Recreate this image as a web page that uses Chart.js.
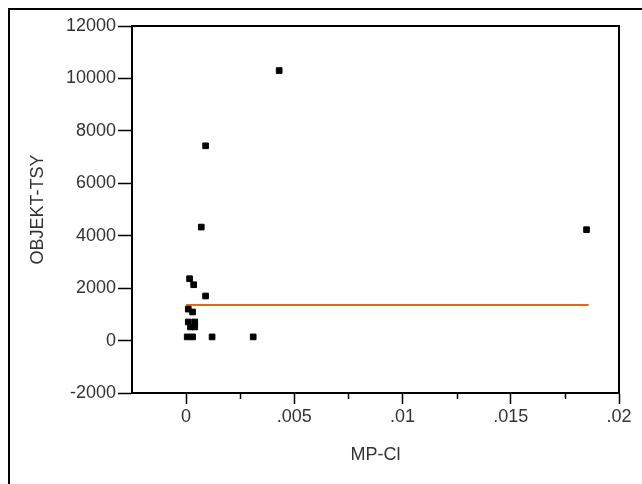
<!DOCTYPE html>
<html>
<head>
<meta charset="utf-8">
<script src="https://cdn.jsdelivr.net/npm/chart.js@4/dist/chart.umd.min.js"></script>
<style>
    html, body { margin: 0; padding: 0; background: #fff; }
    #wrap { position: relative; width: 642px; height: 484px; }
</style>
</head>
<body>
<div id="wrap"><canvas id="chart" width="642" height="484"></canvas></div>
<script>
// Data
const mpX = [0.0043, 0.0009, 0.0007, 0.0185, 0.00016, 0.00035, 0.0009, 0.0001, 0.0003, 0.0001, 0.0004, 0.0002, 0.0004, 0.00005, 0.0003, 0.0012, 0.0031];
const objY = [10300, 7430, 4330, 4230, 2360, 2130, 1700, 1200, 1090, 710, 710, 520, 520, 140, 140, 140, 140];
const meanX = [0, 0.0186];
const meanY = [1360, 1360];

const xTickValues = [0, 0.005, 0.01, 0.015, 0.02];
const xTickLabels = ['0', '.005', '.01', '.015', '.02'];
const xMinorTicks = [0.0025, 0.0075, 0.0125, 0.0175];
const yTickValues = [-2000, 0, 2000, 4000, 6000, 8000, 10000, 12000];

const tickFont = { family: 'Liberation Sans, Arial, sans-serif', size: 18 };

// Outer frame, plot box and minor x ticks
const framePlugin = {
    id: 'frame',
    afterDraw(chart) {
        const { ctx, chartArea } = chart;
        const xs = chart.scales.x;
        ctx.save();
        ctx.strokeStyle = '#000';
        ctx.lineWidth = 2;
        ctx.beginPath();
        ctx.moveTo(9, 484);
        ctx.lineTo(9, 9);
        ctx.lineTo(642, 9);
        ctx.moveTo(chartArea.left, chartArea.top);
        ctx.lineTo(chartArea.right, chartArea.top);
        ctx.lineTo(chartArea.right, chartArea.bottom);
        ctx.stroke();
        ctx.lineWidth = 1.5;
        ctx.beginPath();
        xMinorTicks.forEach((v) => {
            const px = Math.round(xs.getPixelForValue(v)) + 0.5;
            ctx.moveTo(px, chartArea.bottom);
            ctx.lineTo(px, chartArea.bottom + 6);
        });
        ctx.stroke();
        ctx.restore();
    }
};

new Chart(document.getElementById('chart'), {
    type: 'scatter',
    data: {
        datasets: [
            {
                label: 'OBJEKT-TSY',
                data: mpX.map((x, i) => ({ x, y: objY[i] })),
                backgroundColor: '#000',
                borderColor: '#000',
                pointStyle: 'rect',
                pointRadius: 4,
                order: 1
            },
            {
                label: 'mean',
                type: 'line',
                data: meanX.map((x, i) => ({ x, y: meanY[i] })),
                borderColor: '#e8690c',
                borderWidth: 2,
                pointRadius: 0,
                order: 2
            }
        ]
    },
    options: {
        responsive: false,
        animation: false,
        layout: { padding: { left: 0, top: 26, right: 23, bottom: 0 } },
        plugins: {
            legend: { display: false },
            tooltip: { enabled: false }
        },
        scales: {
            x: {
                type: 'linear',
                min: -0.0025,
                max: 0.02,
                afterBuildTicks: (scale) => {
                    scale.ticks = xTickValues.map((value) => ({ value }));
                },
                afterFit: (scale) => { scale.height = 91; },
                ticks: {
                    color: '#333',
                    font: tickFont,
                    padding: 2,
                    maxRotation: 0,
                    callback: (value) => xTickLabels[xTickValues.indexOf(value)] ?? ''
                },
                grid: { drawOnChartArea: false, tickLength: 11, tickColor: '#000', tickWidth: 1.5 },
                border: { color: '#000', width: 2 },
                title: {
                    display: true,
                    text: 'MP-Cl',
                    color: '#333',
                    font: tickFont,
                    padding: { top: 18, bottom: 18 }
                }
            },
            y: {
                min: -2000,
                max: 12000,
                afterBuildTicks: (scale) => {
                    scale.ticks = yTickValues.map((value) => ({ value }));
                },
                afterFit: (scale) => { scale.width = 132; },
                ticks: {
                    color: '#333',
                    font: tickFont,
                    padding: 2,
                    callback: (value) => String(value)
                },
                grid: { drawOnChartArea: false, tickLength: 14, tickColor: '#000', tickWidth: 1.5 },
                border: { color: '#000', width: 2 },
                title: {
                    display: true,
                    text: 'OBJEKT-TSY',
                    color: '#333',
                    font: tickFont,
                    padding: { top: 27, bottom: 0 }
                }
            }
        }
    },
    plugins: [framePlugin]
});
</script>
</body>
</html>
